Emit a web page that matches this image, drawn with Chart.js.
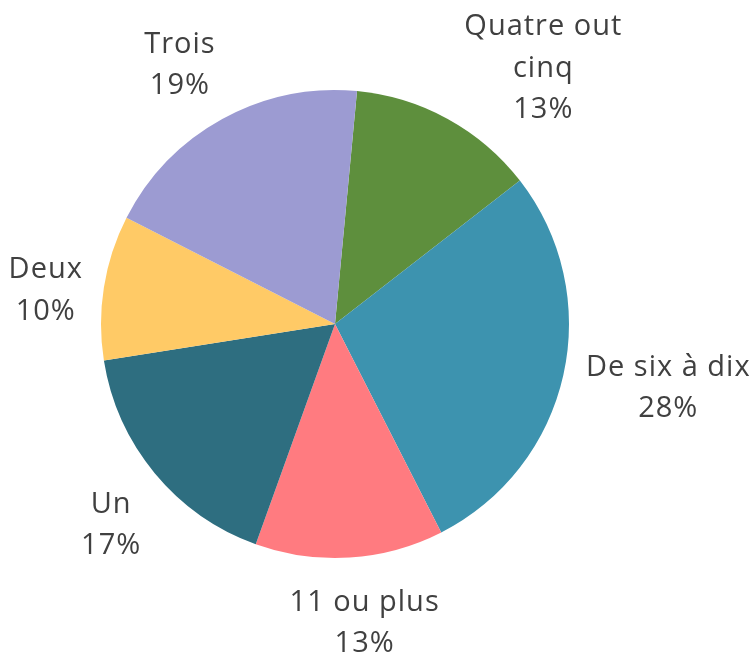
<!DOCTYPE html>
<html>
<head>
<meta charset="utf-8">
<script src="https://cdn.jsdelivr.net/npm/chart.js@4.4.0/dist/chart.umd.min.js"></script>
<style>
  body { margin: 0; background: #fff; }
  #wrap { width: 753px; height: 652px; }
</style>
</head>
<body>
<div id="wrap"><canvas id="pie" width="753" height="652"></canvas></div>
<script>
const categories = ['Quatre out cinq', 'De six à dix', '11 ou plus', 'Un', 'Deux', 'Trois'];
const shares = [13, 28, 13, 17, 10, 19];
const colours = ['#5E8F3D', '#3D93AF', '#FF7B80', '#2E6E80', '#FFCA66', '#9C9BD2'];

// split a category name over two lines when it gets too wide
const wrapText = (ctx, text, maxWidth) => {
  if (ctx.measureText(text).width <= maxWidth) return [text]
  const words = text.split(' ')
  let lines = [], cur = ''
  words.forEach(w => {
    const test = cur ? cur + ' ' + w : w
    if (ctx.measureText(test).width > maxWidth && cur) {
      lines.push(cur)
      cur = w
    } else {
      cur = test
    }
  })
  lines.push(cur)
  return lines
}

// category + percentage written outside each slice
const outerLabels = {
  id: 'outerLabels',
  afterDatasetsDraw(chart) {
    const ctx = chart.ctx
    const meta = chart.getDatasetMeta(0)
    const total = shares.reduce((a, b) => a + b, 0)
    const lh = 41.5, pad = 16, capH = 20.7
    const W = chart.width, H = chart.height
    ctx.save()
    ctx.font = '29px "Open Sans"'
    ctx.letterSpacing = '1px'
    ctx.fillStyle = '#404040'
    ctx.textAlign = 'center'
    ctx.textBaseline = 'alphabetic'
    meta.data.forEach((arc, i) => {
      const { x, y, startAngle, endAngle, outerRadius } =
        arc.getProps(['x', 'y', 'startAngle', 'endAngle', 'outerRadius'], true)
      const lines = wrapText(ctx, categories[i], 190)
      lines.push(Math.round(shares[i] / total * 100) + '%')
      const w = Math.max(...lines.map(l => ctx.measureText(l).width))
      const h = lines.length * lh
      // lean the label direction a little counter-clockwise
      const a = (startAngle + endAngle) / 2 - 2 * Math.PI / 180
      const ux = Math.cos(a), uy = Math.sin(a)
      const d = outerRadius + pad + Math.abs(ux) * w / 2 + Math.abs(uy) * h / 2
      let cx = x + d * ux, cy = y + d * uy
      const fits = cy - h / 2 >= 4 && cy + h / 2 <= H + 12 &&
        cx - w / 2 >= -10 && cx + w / 2 <= W + 10
      if (!fits) {
        // keep the block on the canvas, then slide it sideways off the pie
        cy = Math.min(Math.max(cy, h / 2 + 4), H + 12 - h / 2)
        const dir = ux >= 0 ? 1 : -1
        for (let k = 0; k < 300; k++) {
          const px = Math.min(Math.max(x, cx - w / 2), cx + w / 2)
          const py = Math.min(Math.max(y, cy - h / 2), cy + h / 2)
          if (Math.hypot(px - x, py - y) >= outerRadius) break
          cx += dir
        }
      }
      lines.forEach((l, j) => {
        const mid = cy - h / 2 + lh / 2 + j * lh
        ctx.fillText(l, cx + 0.5, mid + capH / 2)
      })
    })
    ctx.restore()
  }
}

const chart = new Chart(document.getElementById('pie'), {
  type: 'pie',
  data: {
    labels: categories,
    datasets: [{
      data: shares,
      backgroundColor: colours,
      borderWidth: 0,
    }],
  },
  options: {
    responsive: false,
    animation: false,
    rotation: 5.4,
    layout: {
      padding: { left: 101, right: 184, top: 90, bottom: 94 },
    },
    plugins: {
      legend: { display: false },
      tooltip: { enabled: false },
    },
  },
  plugins: [outerLabels],
})
</script>
</body>
</html>
